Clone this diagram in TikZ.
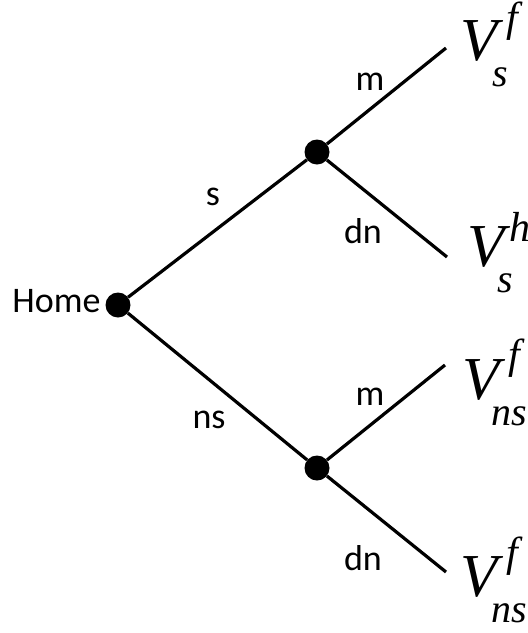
\documentclass[tikz,border=0pt]{standalone}
\usepackage{fontspec}
\setmainfont{Carlito}
\newfontfamily\vfont{Liberation Serif}
\newcommand\vlab[5]{%
\makebox[0pt][l]{\fontsize{61}{61}\selectfont\vfont\itshape V}%
\makebox[0pt][l]{\hspace*{#3}\raisebox{#4}{\fontsize{42}{42}\selectfont\vfont\itshape #1}}%
\hspace*{#5}\raisebox{-26pt}{\fontsize{40}{40}\selectfont\vfont\itshape #2}}
\tikzset{
  dot/.style={circle,fill=black,draw=none,minimum size=25pt,inner sep=0pt},
  branch/.style={line width=3.2pt,black},
  lab/.style={inner sep=0pt,anchor=base,font=\fontsize{36}{36}\selectfont},
  vl/.style={inner sep=0pt,anchor=base west}
}
\begin{document}
\begin{tikzpicture}[x=1pt,y=-1pt]
\useasboundingbox (0,0) rectangle (528,633);
% decision nodes
\node[dot] (home) at (118,305) {};
\node[dot] (up) at (317,152) {};
\node[dot] (lo) at (317,468) {};
% leaf ends
\coordinate (e1) at (446,48);
\coordinate (e2) at (447,257);
\coordinate (e3) at (445,365);
\coordinate (e4) at (446,572);
% branches
\draw[branch] (home) -- (up);
\draw[branch] (home) -- (lo);
\draw[branch] (up) -- (e1);
\draw[branch] (up) -- (e2);
\draw[branch] (lo) -- (e3);
\draw[branch] (lo) -- (e4);
% labels
\node[lab] (thome) at (56.5,312) {Home};
\node[lab] (ts) at (213,205) {s};
\node[lab] (tns) at (209,428) {ns};
\node[lab] (tm1) at (370,90) {m};
\node[lab] (tdn1) at (363,243) {dn};
\node[lab] (tm2) at (370,405) {m};
\node[lab] (tdn2) at (363,570) {dn};
% payoffs
\node[vl] (v1) at (460,60) {\vlab{f}{s}{46pt}{29pt}{32pt}};
\node[vl] (v2) at (467,266) {\vlab{h}{s}{42pt}{25pt}{30pt}};
\node[vl] (v3) at (462,399) {\vlab{f}{ns}{46pt}{31pt}{29pt}};
\node[vl] (v4) at (460,596) {\vlab{f}{ns}{46pt}{30pt}{31pt}};
\end{tikzpicture}
\end{document}
